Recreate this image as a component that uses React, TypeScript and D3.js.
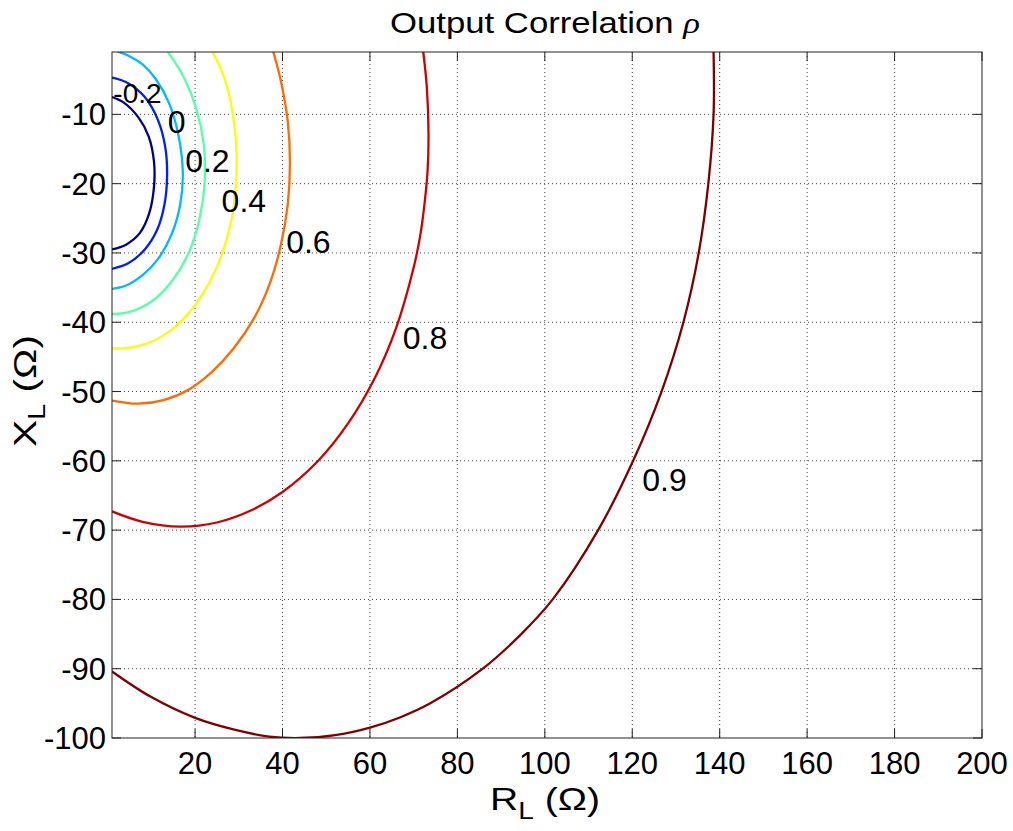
import React from 'react';
import * as d3 from 'd3';

const W = 1013;
const H = 831;

// Axis ticks
const xTicks = [20, 40, 60, 80, 100, 120, 140, 160, 180, 200];
const yTicks = [-100, -90, -80, -70, -60, -50, -40, -30, -20, -10];
const xDomain = [1, 200];
const yDomain = [-100, -1];

// Contour levels (jet colormap)
const levels = [-0.4, -0.2, 0, 0.2, 0.4, 0.6, 0.8, 0.9];

// Contour paths: [R_L, X_L]
const cNeg04: [number, number][] = [
  [1, -7.5], [3.7, -8.3], [7, -10.4], [9.4, -13.2], [10.6, -16.8], [10.6, -20.5],
  [9.5, -24.3], [7.4, -27.1], [4.2, -28.8], [1, -29.5],
];
const cNeg02: [number, number][] = [
  [1, -4.7], [4.7, -5.5], [8.5, -7.5], [11.5, -10.8], [13.2, -14.8], [13.6, -19],
  [13, -23], [11.3, -26.7], [8.5, -29.5], [4.7, -31.5], [1, -32.3],
];
const c00: [number, number][] = [
  [2.5, -1], [5, -1.6], [8, -2.8], [11, -4.9], [14, -8.3], [16.2, -13], [17.2, -18.5],
  [16.6, -23], [14.7, -27.2], [11.5, -30.9], [8, -33.2], [4.2, -34.7], [1, -35.2],
];
const c02: [number, number][] = [
  [13.8, -1], [17.4, -4.6], [20.3, -9.2], [22, -14.4], [22.2, -19.8], [21, -25.1],
  [18.6, -29.9], [14.9, -33.9], [10.3, -36.9], [5.1, -38.5], [1, -38.8],
];
const c04: [number, number][] = [
  [24, -1], [26.5, -4.4], [28.3, -8.7], [29.4, -14.2], [29.4, -19.8], [28.3, -25.3],
  [26, -30.4], [22.7, -34.9], [18.5, -38.7], [13.7, -41.5], [8.4, -43.2], [2.8, -43.8], [1, -43.75],
];
const c06: [number, number][] = [
  [37.9, -1], [39.6, -5.1], [41.2, -11], [41.7, -17], [41.2, -23], [39.6, -28.9],
  [37.1, -34.4], [33.6, -39.3], [28.8, -43.8], [23.8, -47.2], [18.6, -49.7], [13, -51.2],
  [7, -51.75], [1, -51.3],
];
const c08: [number, number][] = [
  [1, -67.3], [8, -68.8], [16.7, -69.5], [25, -68.9], [33, -67.1], [40, -64.5], [48, -60.1],
  [55, -54.6], [61, -48.2], [66, -40.8], [70, -32.1], [71.5, -27.5], [72.5, -22.8], [73.2, -18],
  [73.4, -12.8], [73, -6], [72.2, -1],
];
const c09: [number, number][] = [
  [1, -90.4], [10, -94.1], [20, -97.1], [29, -98.8], [37, -99.8], [44, -100], [52, -99.6],
  [60, -98.5], [67, -97], [73.8, -95], [85.8, -90], [94.6, -85], [101.8, -80], [112.2, -70],
  [120.2, -60], [126.7, -50], [131.7, -40], [135.2, -30], [137.4, -20], [138.6, -10], [138.6, -1],
];
const contourPaths = [cNeg04, cNeg02, c00, c02, c04, c06, c08, c09];
const contourColors = ['#00008F', '#001DFF', '#00BAFF', '#57FFA8', '#F5FF0A', '#FF6B00', '#CF0000', '#800000'];

// Contour labels
const labelTexts = ['-0.2', '0', '0.2', '0.4', '0.6', '0.8', '0.9'];
const labelR = [6.83, 15.76, 22.82, 31.16, 45.93, 72.6, 127.37];
const labelX = [-8.42, -12.75, -18.33, -24.1, -30.06, -43.84, -64.36];
const labelSizes = [28, 32, 32, 32, 32, 32, 32];

const FONT = '"Liberation Sans", Arial, Helvetica, sans-serif';

export default function App() {
  const plot = { left: 112, right: 982, top: 52, bottom: 738 };
  const x = d3.scaleLinear().domain(xDomain).range([plot.left, plot.right]);
  const y = d3.scaleLinear().domain(yDomain).range([plot.bottom, plot.top]);
  const line = d3
    .line<[number, number]>()
    .x((d) => x(d[0]))
    .y((d) => y(d[1]))
    .curve(d3.curveCatmullRom.alpha(0.5));
  const tickLen = 9;
  const axisColor = '#222';
  const gridColor = '#444';

  return (
    <svg
      width={W}
      height={H}
      style={{ position: 'absolute', left: 0, top: 0, background: '#fff' }}
      fontFamily={FONT}
    >
      <defs>
        <clipPath id="plotclip">
          <rect x={plot.left} y={plot.top} width={plot.right - plot.left} height={plot.bottom - plot.top} />
        </clipPath>
      </defs>
      <rect x={0} y={0} width={W} height={H} fill="#fff" />

      {/* grid */}
      <g stroke={gridColor} strokeWidth={1} strokeDasharray="1,3">
        {xTicks.filter((t) => t < xDomain[1]).map((t) => (
          <line key={'gx' + t} x1={x(t)} x2={x(t)} y1={plot.top} y2={plot.bottom} />
        ))}
        {yTicks.filter((t) => t > yDomain[0]).map((t) => (
          <line key={'gy' + t} x1={plot.left} x2={plot.right} y1={y(t)} y2={y(t)} />
        ))}
      </g>

      {/* contours */}
      <g clipPath="url(#plotclip)" fill="none" strokeLinejoin="round" strokeLinecap="round">
        {contourPaths.map((pts, i) => (
          <path key={'c' + levels[i]} d={line(pts) || ''} stroke={contourColors[i]} strokeWidth={2.3} />
        ))}
      </g>

      {/* contour labels */}
      <g fill="#000">
        {labelTexts.map((t, i) => (
          <text key={'l' + t} x={x(labelR[i])} y={y(labelX[i])} textAnchor="middle" fontSize={labelSizes[i]}>
            {t}
          </text>
        ))}
      </g>

      {/* axes box and ticks */}
      <g stroke={axisColor} strokeWidth={1} fill="none">
        <rect x={plot.left} y={plot.top} width={plot.right - plot.left} height={plot.bottom - plot.top} />
        {xTicks.map((t) => (
          <g key={'tx' + t}>
            <line x1={x(t)} x2={x(t)} y1={plot.bottom} y2={plot.bottom - tickLen} />
            <line x1={x(t)} x2={x(t)} y1={plot.top} y2={plot.top + tickLen} />
          </g>
        ))}
        {yTicks.map((t) => (
          <g key={'ty' + t}>
            <line x1={plot.left} x2={plot.left + tickLen} y1={y(t)} y2={y(t)} />
            <line x1={plot.right} x2={plot.right - tickLen} y1={y(t)} y2={y(t)} />
          </g>
        ))}
      </g>

      {/* tick labels */}
      <g fill="#000" fontSize={31}>
        {xTicks.map((t) => (
          <text key={'xl' + t} x={x(t)} y={774} textAnchor="middle">
            {t}
          </text>
        ))}
        {yTicks.map((t) => (
          <text key={'yl' + t} x={106} y={y(t) + 11} textAnchor="end">
            {t}
          </text>
        ))}
      </g>

      {/* title */}
      <text
        x={390}
        y={33}
        fontSize={30}
        fill="#000"
        textLength={310}
        lengthAdjust="spacingAndGlyphs"
      >
        Output Correlation{' '}
        <tspan fontFamily='"Liberation Serif", "DejaVu Serif", serif' fontStyle="italic">
          ρ
        </tspan>
      </text>

      {/* x label */}
      <text x={490} y={810} fontSize={32} fill="#000" textLength={110} lengthAdjust="spacingAndGlyphs">
        <tspan>R</tspan>
        <tspan dy={9} fontSize={23}>L</tspan>
        <tspan dy={-9}> (Ω)</tspan>
      </text>

      {/* y label */}
      <text
        transform="translate(36,447) rotate(-90)"
        fontSize={32}
        fill="#000"
        textLength={112}
        lengthAdjust="spacingAndGlyphs"
      >
        <tspan>X</tspan>
        <tspan dy={9} fontSize={23}>L</tspan>
        <tspan dy={-9}> (Ω)</tspan>
      </text>
    </svg>
  );
}
